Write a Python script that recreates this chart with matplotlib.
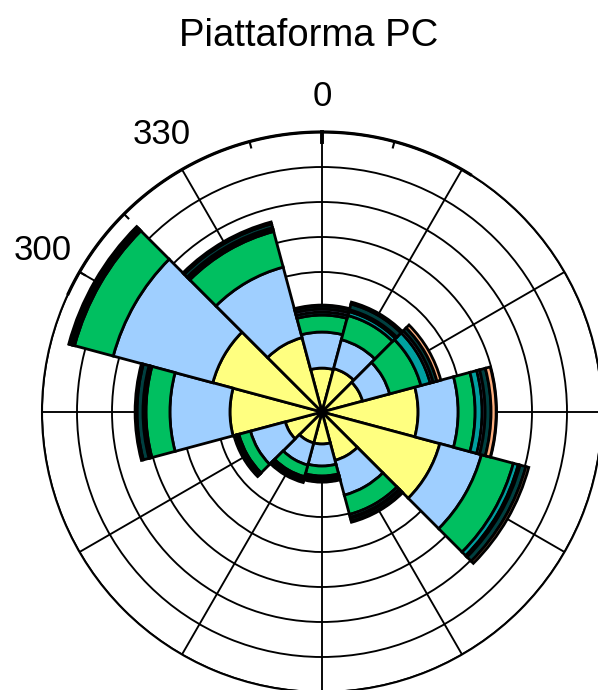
import numpy as np
import matplotlib
matplotlib.use("Agg")
import matplotlib.pyplot as plt

plt.rcParams['font.family'] = ['Liberation Sans', 'DejaVu Sans']

# Direction sectors (degrees, centre of each 30-degree sector)
directions = [0, 30, 60, 90, 120, 150, 180, 210, 240, 270, 300, 330]

# Frequency (%) per speed class, per direction (stacked from the centre outwards)
class1 = [2.51, 2.57, 2.40, 5.49, 6.97, 2.86, 1.83, 1.83, 2.17, 5.26, 6.46, 4.40]
class2 = [2.06, 1.71, 1.60, 2.29, 2.46, 2.06, 1.26, 1.31, 2.06, 3.43, 5.89, 4.17]
class3 = [0.97, 1.43, 1.85, 0.97, 1.89, 1.14, 0.57, 0.69, 0.69, 1.37, 2.29, 2.11]
class4 = [0.17, 0.23, 0.55, 0.40, 0.29, 0.17, 0.09, 0.11, 0.06, 0.11, 0.11, 0.11]
class5 = [0.17, 0.11, 0.17, 0.17, 0.11, 0.06, 0.06, 0.06, 0.06, 0.06, 0.06, 0.11]
class6 = [0.17, 0.34, 0.23, 0.34, 0.34, 0.17, 0.14, 0.11, 0.11, 0.34, 0.11, 0.23]
class7 = [0.06, 0.11, 0.23, 0.29, 0.17, 0.06, 0.06, 0.06, 0.06, 0.11, 0.06, 0.11]

classes = [class1, class2, class3, class4, class5, class6, class7]
colors = ['#FFFF80', '#9FCFFF', '#00BF60', '#00A0A0', '#8FAFFF', '#004040', '#FFB07F']

ring_values = [2, 4, 6, 8, 10, 12, 14, 16]
label_angles = [0, 330, 300]
label_texts = ['0', '330', '300']
tick_angles = [300, 315, 345, 0, 15]

W, H = 598, 690
cx, cy, R = 322, 412, 280
fig = plt.figure(figsize=(W / 100, H / 100), dpi=100)
ax = fig.add_axes([(cx - R) / W, (H - cy - R) / H, 2 * R / W, 2 * R / H], projection='polar')
ax.set_theta_zero_location('N')
ax.set_theta_direction(-1)
ax.set_axisbelow(True)

theta = np.deg2rad(directions)
width = np.deg2rad(30)
bottom = np.zeros(len(directions))
for vals, col in zip(classes, colors):
    vals = np.asarray(vals)
    ax.bar(theta, vals, width=width, bottom=bottom, color=col,
           edgecolor='black', linewidth=2.0, align='center', zorder=3)
    bottom = bottom + vals

rmax = ring_values[-1]
ax.set_ylim(0, rmax)
ax.set_yticks(ring_values)
ax.set_yticklabels([])
ax.set_xticks(np.deg2rad(np.arange(0, 360, 30)))
ax.set_xticklabels([])
ax.tick_params(axis='x', length=0)
ax.grid(True, color='black', linewidth=1.35)
ax.spines['polar'].set_linewidth(1.5)

# heavier angular-axis arc with its ticks (upper-left part of the circle)
arc = np.deg2rad(np.linspace(-65, 32, 200))
ax.plot(arc, np.full_like(arc, rmax), color='black', linewidth=2.3, zorder=4, clip_on=False)
for a in tick_angles:
    L = 0.6 if a == 0 else 0.35
    ax.plot([np.deg2rad(a)] * 2, [rmax - L, rmax],
            color='black', linewidth=2.8 if a == 0 else 1.5, zorder=4, clip_on=False)

label_r = [1.125, 1.145, 1.15]
for a, t, f in zip(label_angles, label_texts, label_r):
    ax.text(np.deg2rad(a), rmax * f, t, ha='center', va='center',
            fontsize=25, clip_on=False)

fig.text(309 / W, 1 - 36 / H, 'Piattaforma PC', ha='center', va='center', fontsize=27.5)

fig.savefig('out.png', dpi=100)
